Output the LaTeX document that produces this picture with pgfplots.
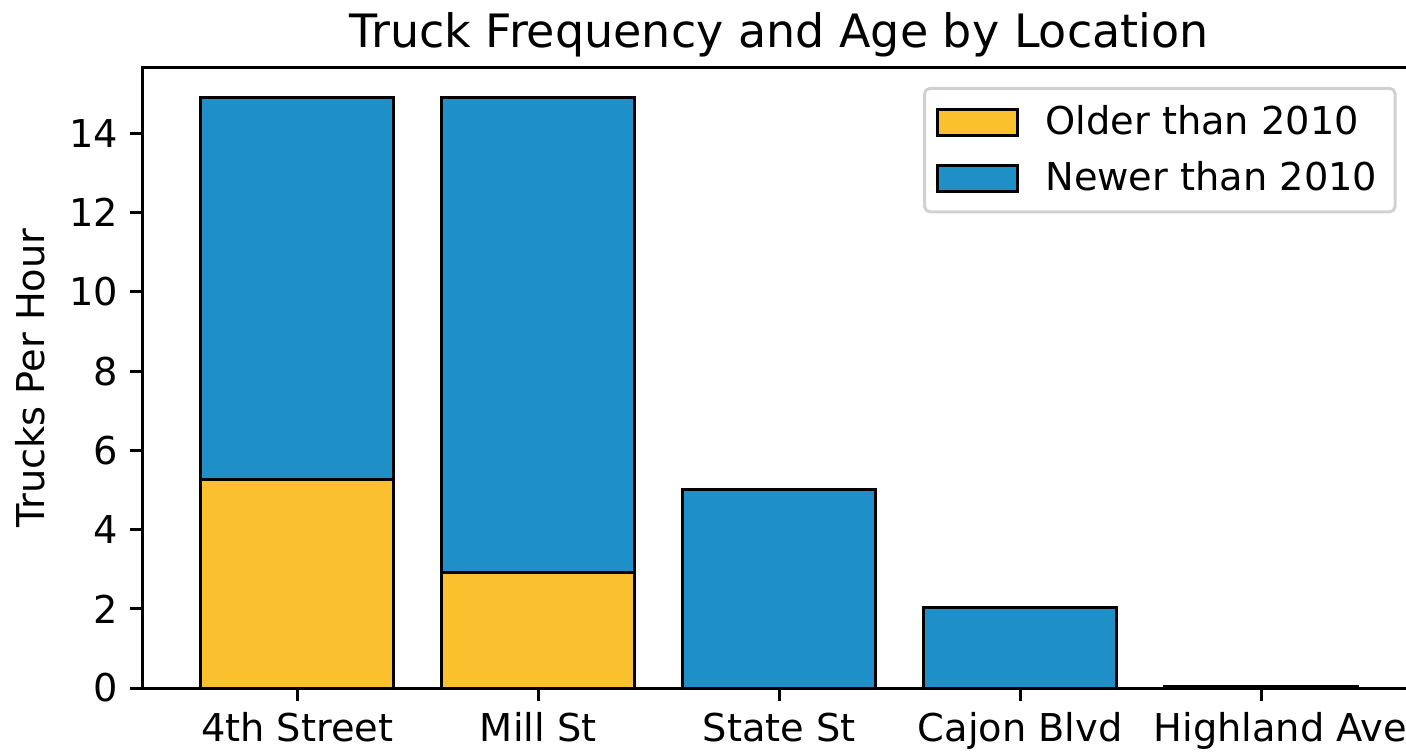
\documentclass[border=0pt]{standalone}
\usepackage{fontspec}
\setmainfont{DejaVu Sans}
\usepackage{pgfplots}
\pgfplotsset{compat=1.18}
\definecolor{older}{RGB}{251,192,45}
\definecolor{newer}{RGB}{31,143,200}
\begin{document}
\begin{tikzpicture}
\begin{axis}[
    scale only axis,
    width=381.75pt, height=186pt,
    ybar stacked, bar width=0.8,
    xmin=-0.64, xmax=4.64, ymin=0, ymax=15.65,
    xtick={0,1,2,3,4},
    xticklabels={4th Street, Mill St, State St, Cajon Blvd, \hspace*{11.4pt}Highland Ave},
    ytick={0,2,...,14},
    /pgf/number format/assume math mode=true,
    tick label style={font=\fontsize{11.5pt}{13pt}\selectfont, black},
    tick align=outside, major tick length=3.9pt,
    xtick pos=left, ytick pos=left,
    axis line style={line width=0.9pt, black},
    every tick/.style={line width=0.9pt, black},
    title={Truck Frequency and Age by Location},
    every axis title/.style={font=\fontsize{13.8pt}{16pt}\selectfont, at={(0.5,1)}, anchor=base, yshift=6pt},
    ylabel={Trucks Per Hour},
    every axis y label/.style={at={(rel axis cs:0,0.5)}, xshift=-33.9pt, rotate=90, anchor=center,
        font=\fontsize{11.5pt}{13pt}\selectfont},
    legend image code/.code={\draw[#1, line width=0.9pt, sharp corners] (0pt,-3.9pt) rectangle (24pt,3.9pt);},
    legend cell align=left,
    legend style={at={(1,1)}, xshift=-5.7pt, yshift=-5.7pt, anchor=north east,
        draw=black!18, line width=0.9pt, rounded corners=1.5pt,
        font=\fontsize{11.5pt}{13pt}\selectfont,
        inner xsep=3.3pt, inner ysep=3pt, row sep=2.5pt,
        /tikz/every odd column/.append style={column sep=6pt},
        /tikz/every even column/.append style={column sep=0pt}},
]
\coordinate (sw) at (rel axis cs:0,0);
\addplot[fill=older, draw=black, line width=0.9pt] coordinates {
    (0,5.26) (1,2.91) (2,0) (3,0) (4,0)
};
\addplot[fill=newer, draw=black, line width=0.9pt] coordinates {
    (0,9.65) (1,12.0) (2,5.0) (3,2.02) (4,0.05)
};
\legend{Older than 2010, Newer than 2010}
\end{axis}
\pgfresetboundingbox
\path[use as bounding box] ([shift={(-42.9pt,-19.2pt)}]sw) rectangle ([shift={(378.9pt,206.4pt)}]sw);
\end{tikzpicture}
\end{document}
